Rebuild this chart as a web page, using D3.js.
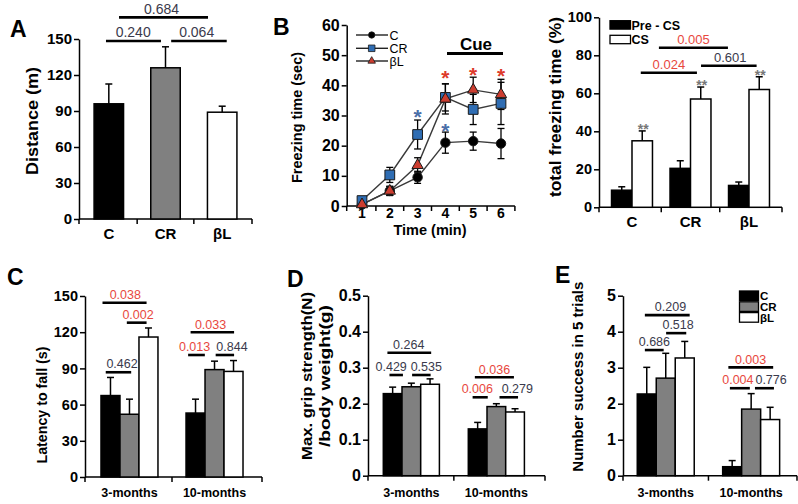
<!DOCTYPE html>
<html><head><meta charset="utf-8">
<script src="https://cdn.jsdelivr.net/npm/d3@7"></script>
<style>
body{margin:0;background:#fff;}
svg{display:block;}
</style></head><body>
<svg id="fig" width="798" height="504"></svg>
<script>
// ================= DATA =================
const groups3 = ["C", "CR", "βL"];
// Panel A
const distanceVals = [96, 126, 89];
const distanceErr = [16.5, 17.5, 5];
const distanceTicks = [0, 30, 60, 90, 120, 150];
const aSig = [
  {a: -0.05, b: 0.92, y: 148.3, p: "0.240", red: false, t: 0.43},
  {a: 1.1, b: 2.08, y: 148.3, p: "0.064", red: false, t: 1.55},
  {a: 0.18, b: 1.75, y: 168, p: "0.684", red: false, t: 0.93}
];
// Panel B (time course)
const timeMin = [1, 2, 3, 4, 5, 6];
const freezeC = [0.5, 5, 9.5, 21, 21.5, 20.7];
const freezeCErr = [0.5, 1.5, 2, 3.5, 3, 5];
const freezeCR = [1.8, 10.3, 23.7, 36, 32, 34];
const freezeCRErr = [1, 2.5, 4.8, 4.5, 5, 7];
const freezeBL = [0.5, 5, 13.5, 35.5, 38.5, 37];
const freezeBLErr = [0.5, 1.5, 2.5, 5, 4.2, 5];
const freezeTicks = [0, 10, 20, 30, 40, 50, 60];
const bStars = [
  {t: 3, y: 31, c: "blue"}, {t: 4, y: 26.6, c: "blue"},
  {t: 4, y: 44.2, c: "red"}, {t: 5, y: 45.1, c: "red"}, {t: 6, y: 44.8, c: "red"}
];
// Panel B right (total freezing)
const csKeys = ["Pre - CS", "CS"];
const preCS = [9, 20.5, 11.5];
const preCSErr = [1.8, 4, 1.8];
const cs = [35, 57, 62];
const csErr = [5.2, 6.3, 6.7];
const totalTicks = [0, 20, 40, 60, 80, 100];
const b2Sig = [
  {a: 0.15, b: 1.11, y: 70.8, p: "0.024", red: true, t: 0.63},
  {a: 1.18, b: 2.13, y: 74.5, p: "0.601", red: false, t: 1.68},
  {a: 0.46, b: 1.64, y: 84, p: "0.005", red: true, t: 1.05}
];
// Bottom panels
const ageGroups = ["3-months", "10-months"];
const latency3m = [67.5, 52, 116], latency3mErr = [15, 12.5, 7.5];
const latency10m = [53, 89, 87.5], latency10mErr = [11.5, 7, 9];
const latencyTicks = [0, 30, 60, 90, 120, 150];
const cSig = [
  {g: 0, a: -0.42, b: 1.9, y: 144.4, p: "0.038", red: true, t: 0.78},
  {g: 0, a: 0.86, b: 1.9, y: 127.9, p: "0.002", red: true, t: 1.45},
  {g: 0, a: -0.25, b: 1.09, y: 86.8, p: "0.462", red: false, t: 0.61},
  {g: 1, a: -0.26, b: 2.03, y: 119.9, p: "0.033", red: true, t: 0.79},
  {g: 1, a: -0.39, b: 0.49, y: 101.1, p: "0.013", red: true, t: -0.05},
  {g: 1, a: 1.06, b: 2.03, y: 101.1, p: "0.844", red: false, t: 1.92}
];
const grip3m = [0.228, 0.247, 0.254], grip3mErr = [0.018, 0.01, 0.015];
const grip10m = [0.13, 0.192, 0.177], grip10mErr = [0.018, 0.008, 0.009];
const gripTicks = [0, 0.1, 0.2, 0.3, 0.4, 0.5];
const dSig = [
  {g: 0, a: -0.28, b: 2.06, y: 0.3417, p: "0.264", red: false, t: 0.86},
  {g: 0, a: -0.17, b: 0.55, y: 0.2797, p: "0.429", red: false, t: -0.08},
  {g: 0, a: 1.04, b: 2.03, y: 0.2797, p: "0.535", red: false, t: 1.8},
  {g: 1, a: -0.15, b: 1.94, y: 0.2733, p: "0.036", red: true, t: 0.9},
  {g: 1, a: -0.27, b: 0.54, y: 0.2178, p: "0.006", red: true, t: -0.02},
  {g: 1, a: 1.17, b: 2.16, y: 0.2178, p: "0.279", red: false, t: 2.12}
];
const success3m = [2.27, 2.71, 3.27], success3mErr = [0.74, 0.69, 0.46];
const success10m = [0.25, 1.85, 1.56], success10mErr = [0.17, 0.43, 0.34];
const successTicks = [0, 1, 2, 3, 4, 5];
const eSig = [
  {g: 0, a: -0.1, b: 2.26, y: 4.46, p: "0.209", red: false, t: 1.25},
  {g: 0, a: 1.02, b: 2.08, y: 3.96, p: "0.518", red: false, t: 1.65},
  {g: 0, a: -0.1, b: 0.89, y: 3.49, p: "0.686", red: false, t: 0.4},
  {g: 1, a: -0.2, b: 2.16, y: 3.01, p: "0.003", red: true, t: 0.97},
  {g: 1, a: -0.12, b: 0.93, y: 2.43, p: "0.004", red: true, t: 0.3},
  {g: 1, a: 1.2, b: 2.2, y: 2.43, p: "0.776", red: false, t: 2.05}
];

// ================= STYLE =================
const FONT = "'Liberation Sans', Arial, Helvetica, sans-serif";
const RED = "#e8483e", DARK = "#3a3a4c";
const BAR_FILLS = ["#000000", "#808080", "#ffffff"];
const svg = d3.select("#fig").attr("font-family", FONT);

// ================= HELPERS =================
function yAxis(x, y, ticks, fs, fmt) {
  const ax = d3.axisLeft(y).tickValues(ticks).tickSize(5).tickSizeOuter(0).tickPadding(2)
    .tickFormat(fmt || d3.format("d"));
  const a = svg.append("g").attr("transform", `translate(${x},0)`).call(ax)
    .attr("font-family", FONT).attr("font-size", fs).attr("font-weight", "bold");
  a.select(".domain").attr("stroke", "#000").attr("stroke-width", 1.5);
  a.selectAll(".tick line").attr("stroke", "#000").attr("stroke-width", 1.5);
  a.selectAll(".tick text").attr("fill", "#000");
}
function xBase(x0, x1, y0, tickXs) {
  svg.append("line").attr("x1", x0).attr("x2", x1).attr("y1", y0).attr("y2", y0)
    .attr("stroke", "#000").attr("stroke-width", 1.5);
  svg.append("g").selectAll("line").data(tickXs).join("line")
    .attr("x1", d => d).attr("x2", d => d).attr("y1", y0).attr("y2", y0 + 5)
    .attr("stroke", "#000").attr("stroke-width", 1.5);
}
function yLabel(cx, cy, txt, fs, len) {
  svg.append("text").attr("transform", `translate(${cx},${cy}) rotate(-90)`)
    .attr("text-anchor", "middle").attr("dominant-baseline", "central")
    .attr("font-size", fs).attr("font-weight", "bold")
    .attr("textLength", len).attr("lengthAdjust", "spacingAndGlyphs").text(txt);
}
function letter(x, y, t) {
  svg.append("text").attr("x", x).attr("y", y).attr("font-size", 23).attr("font-weight", "bold").text(t);
}
function sig(list, xf, y, fs) {
  const g = svg.append("g");
  g.selectAll("line").data(list).join("line")
    .attr("x1", d => xf(d, d.a)).attr("x2", d => xf(d, d.b))
    .attr("y1", d => y(d.y)).attr("y2", d => y(d.y))
    .attr("stroke", "#000").attr("stroke-width", 2.6);
  g.selectAll("text").data(list).join("text")
    .attr("x", d => xf(d, d.t)).attr("y", d => y(d.y) - 3.8)
    .attr("text-anchor", "middle").attr("font-size", fs)
    .attr("fill", d => d.red ? RED : DARK).text(d => d.p);
}
function barsWithErr(data, y, y0) {
  const g = svg.append("g");
  g.selectAll("line.e").data(data).join("line").attr("class", "e")
    .attr("x1", d => d.x + d.w / 2).attr("x2", d => d.x + d.w / 2)
    .attr("y1", d => y(d.v)).attr("y2", d => y(d.v + d.e))
    .attr("stroke", "#000").attr("stroke-width", 1.5);
  g.selectAll("line.c").data(data).join("line").attr("class", "c")
    .attr("x1", d => d.x + d.w / 2 - 3.5).attr("x2", d => d.x + d.w / 2 + 3.5)
    .attr("y1", d => y(d.v + d.e)).attr("y2", d => y(d.v + d.e))
    .attr("stroke", "#000").attr("stroke-width", 1.5);
  g.selectAll("rect").data(data).join("rect")
    .attr("x", d => d.x).attr("width", d => d.w)
    .attr("y", d => y(d.v)).attr("height", d => y0 - y(d.v))
    .attr("fill", d => d.fill).attr("stroke", "#000").attr("stroke-width", 1.5);
}

// ================= PANEL A =================
{
  const x0 = 79, x1 = 252, y0 = 219;
  const x = d3.scaleBand().domain(groups3).range([x0, x1]).paddingInner(0.48).paddingOuter(0.266);
  const y = d3.scaleLinear().domain([0, 150]).range([y0, 39]);
  const bw = x.bandwidth(), step = x.step();
  const cx = i => x(groups3[0]) + bw / 2 + i * step;
  xBase(x0, x1, y0, [x0, cx(0.5), cx(1.5), x1]);
  yAxis(x0, y, distanceTicks, 15);
  barsWithErr(groups3.map((c, i) => ({x: x(c), w: bw, v: distanceVals[i], e: distanceErr[i], fill: BAR_FILLS[i]})), y, y0);
  svg.append("g").selectAll("text").data(groups3).join("text")
    .attr("x", d => x(d) + bw / 2).attr("y", 239).attr("text-anchor", "middle")
    .attr("font-size", 15).attr("font-weight", "bold").text(d => d);
  sig(aSig, (d, i) => cx(i), y, 14);
  yLabel(32, 121, "Distance (m)", 17, 108);
  letter(10, 37, "A");
}

// ================= PANEL B (time course) =================
{
  const xA = 346.7, y0 = 206;
  const x = d3.scaleLinear().domain([1, 6]).range([362, 501]);
  const y = d3.scaleLinear().domain([0, 60]).range([y0, 25]);
  xBase(xA, x(6.5), y0, [xA].concat(timeMin.map(t => x(t + 0.5))));
  yAxis(xA, y, freezeTicks, 16);
  svg.append("g").selectAll("text").data(timeMin).join("text")
    .attr("x", d => x(d)).attr("y", 217.5).attr("text-anchor", "middle")
    .attr("font-size", 14).attr("font-weight", "bold").text(d => d);
  svg.append("text").attr("x", 430).attr("y", 234.5).attr("text-anchor", "middle")
    .attr("font-size", 14.5).attr("font-weight", "bold").text("Time (min)");
  yLabel(297, 117.5, "Freezing time (sec)", 14.5, 131);
  letter(273, 35, "B");

  const series = [
    {name: "C", v: freezeC, e: freezeCErr, sym: d3.symbolCircle, size: 70, fill: "#000"},
    {name: "CR", v: freezeCR, e: freezeCRErr, sym: d3.symbolSquare, size: 95, fill: "#2f6db3"},
    {name: "βL", v: freezeBL, e: freezeBLErr, sym: d3.symbolTriangle, size: 55, fill: "#cc3d30"}
  ];
  const line = d3.line().x((d, i) => x(timeMin[i])).y(d => y(d));
  series.forEach(s => {
    svg.append("path").attr("d", line(s.v)).attr("fill", "none").attr("stroke", "#3a3a3a").attr("stroke-width", 1.4);
  });
  series.forEach(s => {
    const g = svg.append("g");
    const pts = s.v.map((v, i) => ({t: timeMin[i], v, e: s.e[i]}));
    g.selectAll("line.v").data(pts).join("line").attr("class", "v")
      .attr("x1", d => x(d.t)).attr("x2", d => x(d.t)).attr("y1", d => y(d.v - d.e)).attr("y2", d => y(d.v + d.e))
      .attr("stroke", "#000").attr("stroke-width", 1.3);
    ["lo", "hi"].forEach(k => {
      g.selectAll("line." + k).data(pts).join("line").attr("class", k)
        .attr("x1", d => x(d.t) - 3.5).attr("x2", d => x(d.t) + 3.5)
        .attr("y1", d => y(k === "hi" ? d.v + d.e : Math.max(0, d.v - d.e)))
        .attr("y2", d => y(k === "hi" ? d.v + d.e : Math.max(0, d.v - d.e)))
        .attr("stroke", "#000").attr("stroke-width", 1.3);
    });
  });
  series.forEach(s => {
    svg.append("g").selectAll("path").data(s.v).join("path")
      .attr("transform", (d, i) => `translate(${x(timeMin[i])},${y(d)})`)
      .attr("d", d3.symbol().type(s.sym).size(s.size))
      .attr("fill", s.fill).attr("stroke", "#1a1a1a").attr("stroke-width", 1);
  });
  const ly = [35, 48.3, 61];
  series.forEach((s, i) => {
    svg.append("line").attr("x1", 356).attr("x2", 388).attr("y1", ly[i]).attr("y2", ly[i])
      .attr("stroke", "#222").attr("stroke-width", 1.4);
    svg.append("path").attr("transform", `translate(371.7,${ly[i]})`)
      .attr("d", d3.symbol().type(s.sym).size(s.size * 0.45))
      .attr("fill", s.fill).attr("stroke", "#1a1a1a").attr("stroke-width", 0.8);
    svg.append("text").attr("x", 389.5).attr("y", ly[i] + 4.5).attr("font-size", 12.5).text(s.name);
  });
  svg.append("text").attr("x", 476).attr("y", 50).attr("text-anchor", "middle")
    .attr("font-size", 17).attr("font-weight", "bold").text("Cue");
  svg.append("line").attr("x1", 447).attr("x2", 503).attr("y1", 53.5).attr("y2", 53.5)
    .attr("stroke", "#000").attr("stroke-width", 3);
  svg.append("g").selectAll("text").data(bStars).join("text")
    .attr("x", d => x(d.t)).attr("y", d => y(d.y) + 12)
    .attr("text-anchor", "middle").attr("font-size", 21).attr("font-weight", "bold")
    .attr("fill", d => d.c === "red" ? "#dd3a2b" : "#4a6ea8").text("*");
}

// ================= PANEL B right (total freezing) =================
{
  const x0 = 599, x1 = 782, y0 = 207.3;
  const x = d3.scaleBand().domain(groups3).range([x0, x1]).paddingInner(0.3).paddingOuter(0.214);
  const xi = d3.scaleBand().domain(csKeys).range([0, x.bandwidth()]);
  const y = d3.scaleLinear().domain([0, 100]).range([y0, 17.3]);
  const step = x.step();
  const cx = i => x(groups3[0]) + x.bandwidth() / 2 + i * step;
  xBase(x0, x1, y0, [x0, cx(0.5), cx(1.5), x1]);
  yAxis(x0, y, totalTicks, 14.5);
  const data = [];
  groups3.forEach((c, i) => {
    data.push({x: x(c) + xi(csKeys[0]), w: xi.bandwidth(), v: preCS[i], e: preCSErr[i], fill: "#000"});
    data.push({x: x(c) + xi(csKeys[1]), w: xi.bandwidth(), v: cs[i], e: csErr[i], fill: "#fff"});
  });
  barsWithErr(data, y, y0);
  svg.append("g").selectAll("text").data(groups3).join("text")
    .attr("x", (c) => x(c) + xi(csKeys[1]) + xi.bandwidth() / 2 + 1)
    .attr("y", (c, i) => y(cs[i] + csErr[i]) + 3)
    .attr("text-anchor", "middle").attr("font-size", 14).attr("font-weight", "bold")
    .attr("fill", "#777").text("**");
  svg.append("g").selectAll("text").data(groups3).join("text")
    .attr("x", d => x(d) + x.bandwidth() / 2).attr("y", 227).attr("text-anchor", "middle")
    .attr("font-size", 15).attr("font-weight", "bold").text(d => d);
  sig(b2Sig, (d, i) => cx(i), y, 13);
  const lg = [{k: csKeys[0], fill: "#000", y: 20.7}, {k: csKeys[1], fill: "#fff", y: 35.3}];
  lg.forEach(l => {
    svg.append("rect").attr("x", 610).attr("y", l.y).attr("width", 20.5).attr("height", 8.4)
      .attr("fill", l.fill).attr("stroke", "#000").attr("stroke-width", 1.3);
    svg.append("text").attr("x", 631.5).attr("y", l.y + 8.8).attr("font-size", 12.5)
      .attr("font-weight", "bold").text(l.k);
  });
  yLabel(555, 107, "total  freezing time (%)", 16, 180);
}

// ================= BOTTOM PANELS =================
function bottomPanel(o) {
  const x = d3.scaleBand().domain(ageGroups).range(o.range).paddingInner(o.pi).paddingOuter(o.po);
  const bw = x.bandwidth(), sw = bw / 3, step = x.step();
  xBase(o.x0, o.x1, o.y0, [o.x0, x(ageGroups[0]) + bw / 2 + step / 2, o.x1]);
  yAxis(o.x0, o.y, o.ticks, o.fs, o.fmt);
  const data = [];
  ageGroups.forEach((g, gi) => {
    o.vals[gi].forEach((v, k) => data.push({x: x(g) + k * sw, w: sw, v, e: o.errs[gi][k], fill: BAR_FILLS[k]}));
  });
  barsWithErr(data, o.y, o.y0);
  svg.append("g").selectAll("text").data(ageGroups).join("text")
    .attr("x", d => x(d) + bw / 2).attr("y", 497).attr("text-anchor", "middle")
    .attr("font-size", 12.5).attr("font-weight", "bold").text(d => d);
  sig(o.sig, (d, k) => x(ageGroups[d.g]) + (k + 0.5) * sw, o.y, 12.5);
}

bottomPanel({
  x0: 85, x1: 262, y0: 477, range: [85, 259], pi: 0.33, po: 0.188,
  y: d3.scaleLinear().domain([0, 150]).range([477, 296]), ticks: latencyTicks, fs: 14.5,
  vals: [latency3m, latency10m], errs: [latency3mErr, latency10mErr], sig: cSig
});
yLabel(41.5, 405, "Latency to fall (s)", 15, 117);
letter(7, 285, "C");

bottomPanel({
  x0: 368, x1: 545, y0: 475.7, range: [368, 539.7], pi: 0.34, po: 0.18,
  y: d3.scaleLinear().domain([0, 0.5]).range([475.7, 295.7]), ticks: gripTicks, fs: 16,
  fmt: d => d === 0 ? "0" : d.toFixed(1),
  vals: [grip3m, grip10m], errs: [grip3mErr, grip10mErr], sig: dSig
});
yLabel(306.5, 376, "Max. grip strength(N)", 15, 168);
yLabel(324, 376, "/body weight(g)", 15, 142);
letter(287, 287, "D");

bottomPanel({
  x0: 623, x1: 797, y0: 475.7, range: [623, 793.9], pi: 0.333, po: 0.167,
  y: d3.scaleLinear().domain([0, 5]).range([475.7, 295.7]), ticks: successTicks, fs: 16,
  vals: [success3m, success10m], errs: [success3mErr, success10mErr], sig: eSig
});
yLabel(577.5, 376.7, "Number success in 5 trials", 15.5, 190);
letter(555, 283, "E");
groups3.forEach((c, i) => {
  svg.append("rect").attr("x", 739.5).attr("y", 291 + i * 10.8).attr("width", 19).attr("height", 9.6)
    .attr("fill", BAR_FILLS[i]).attr("stroke", "#000").attr("stroke-width", 1.3);
  svg.append("text").attr("x", 760).attr("y", 300.3 + i * 10.8).attr("font-size", 11.5)
    .attr("font-weight", "bold").text(c);
});
</script>
</body></html>
